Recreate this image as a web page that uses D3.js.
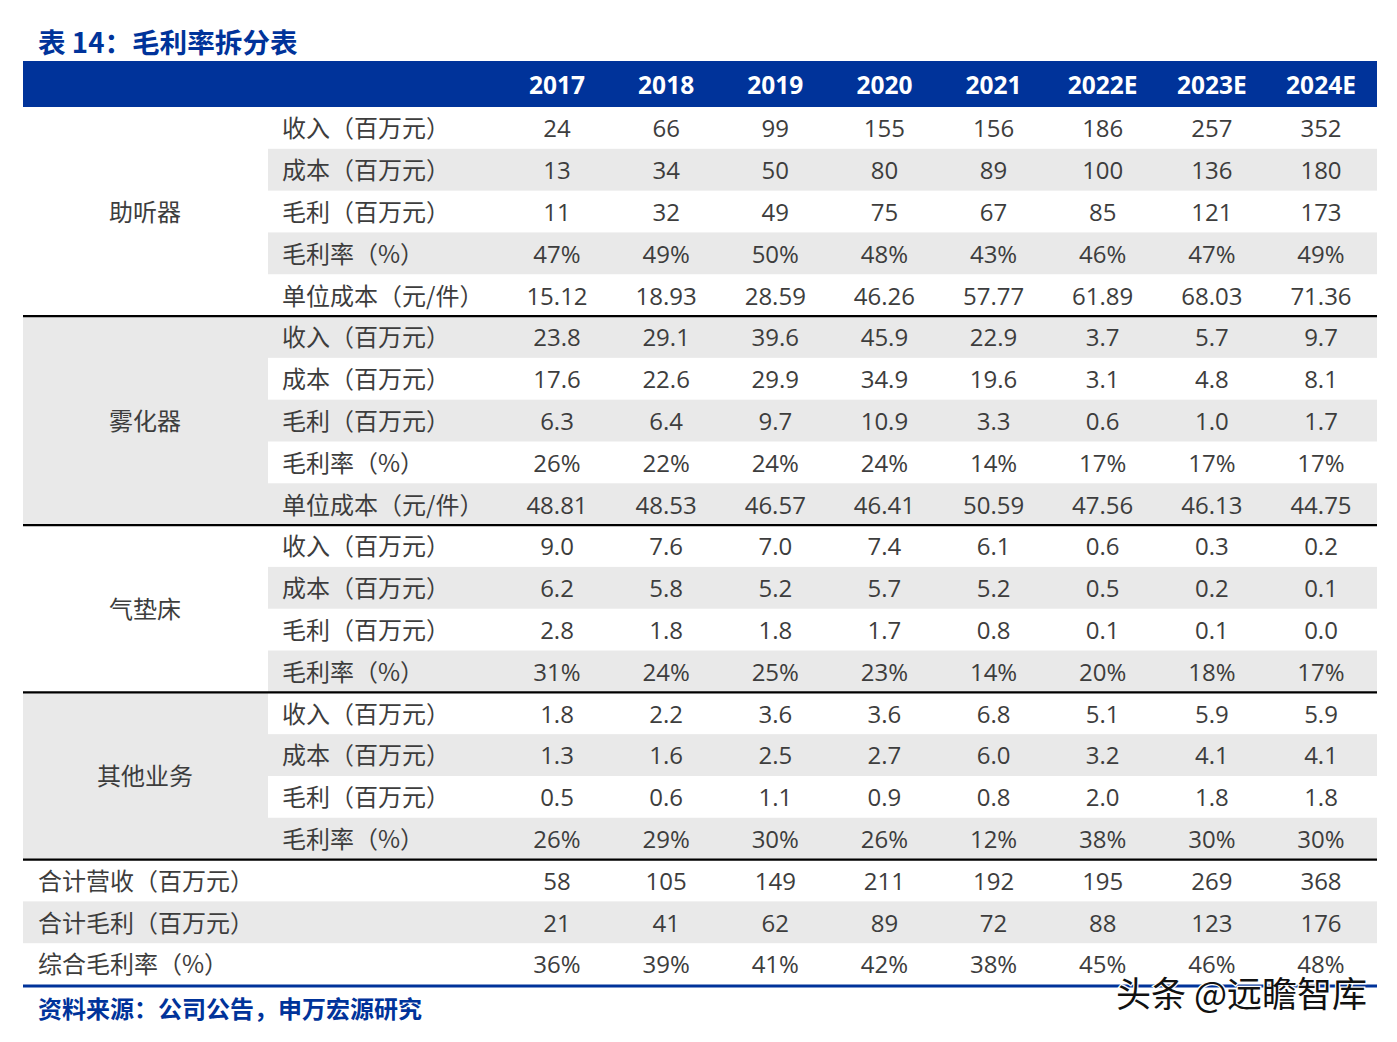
<!DOCTYPE html>
<html><head><meta charset="utf-8">
<script src="https://cdn.jsdelivr.net/npm/d3@7"></script>
<style>body{margin:0;background:#fff;}</style>
</head><body>
<svg id="c" width="1397" height="1042"></svg>
<script>
const title = "表 14：毛利率拆分表";
const source = "资料来源：公司公告，申万宏源研究";
const watermark = "头条 @远瞻智库";
const years = ["2017","2018","2019","2020","2021","2022E","2023E","2024E"];
const groups = [
  {name:"助听器", rows:5},
  {name:"雾化器", rows:5},
  {name:"气垫床", rows:4},
  {name:"其他业务", rows:4}
];
const rowLabels = [
  "收入（百万元）","成本（百万元）","毛利（百万元）","毛利率（%）","单位成本（元/件）",
  "收入（百万元）","成本（百万元）","毛利（百万元）","毛利率（%）","单位成本（元/件）",
  "收入（百万元）","成本（百万元）","毛利（百万元）","毛利率（%）",
  "收入（百万元）","成本（百万元）","毛利（百万元）","毛利率（%）",
  "合计营收（百万元）","合计毛利（百万元）","综合毛利率（%）"
];
const values = [
  ["24","66","99","155","156","186","257","352"],
  ["13","34","50","80","89","100","136","180"],
  ["11","32","49","75","67","85","121","173"],
  ["47%","49%","50%","48%","43%","46%","47%","49%"],
  ["15.12","18.93","28.59","46.26","57.77","61.89","68.03","71.36"],
  ["23.8","29.1","39.6","45.9","22.9","3.7","5.7","9.7"],
  ["17.6","22.6","29.9","34.9","19.6","3.1","4.8","8.1"],
  ["6.3","6.4","9.7","10.9","3.3","0.6","1.0","1.7"],
  ["26%","22%","24%","24%","14%","17%","17%","17%"],
  ["48.81","48.53","46.57","46.41","50.59","47.56","46.13","44.75"],
  ["9.0","7.6","7.0","7.4","6.1","0.6","0.3","0.2"],
  ["6.2","5.8","5.2","5.7","5.2","0.5","0.2","0.1"],
  ["2.8","1.8","1.8","1.7","0.8","0.1","0.1","0.0"],
  ["31%","24%","25%","23%","14%","20%","18%","17%"],
  ["1.8","2.2","3.6","3.6","6.8","5.1","5.9","5.9"],
  ["1.3","1.6","2.5","2.7","6.0","3.2","4.1","4.1"],
  ["0.5","0.6","1.1","0.9","0.8","2.0","1.8","1.8"],
  ["26%","29%","30%","26%","12%","38%","30%","30%"],
  ["58","105","149","211","192","195","269","368"],
  ["21","41","62","89","72","88","123","176"],
  ["36%","39%","41%","42%","38%","45%","46%","48%"]
];

const svg = d3.select("#c");
const BLUE = "#00339a", GRAY = "#e9e9e9", TXT = "#3d3d3d";
const L = 23, R = 1377, labelX = 268;
const FN = "'Open Sans','Noto Sans CJK SC',sans-serif";
const FC = "'Noto Sans CJK SC',sans-serif";

const x = d3.scalePoint().domain(years).range([557, 1321]);
const y = d3.scaleBand().domain(d3.range(rowLabels.length)).range([107, 985]);
const bh = y.bandwidth();

// title
svg.append("text").attr("x",38).attr("y",53).text(title)
  .attr("font-family",FC).attr("font-weight","bold").attr("font-size",27.6).attr("fill",BLUE);

// header band
svg.append("rect").attr("x",L).attr("y",61).attr("width",R-L).attr("height",46).attr("fill",BLUE);
svg.selectAll("text.yr").data(years).join("text").attr("class","yr")
  .attr("x",d=>x(d)).attr("y",85).attr("dy","0.35em").attr("text-anchor","middle")
  .attr("font-family",FN).attr("font-weight","bold").attr("font-size",24.5).attr("fill","#fff").text(d=>d);

// row stripes
const nGroupRows = d3.sum(groups, g=>g.rows);
svg.selectAll("rect.stripe").data(d3.range(rowLabels.length).filter(i=>i%2===1)).join("rect")
  .attr("class","stripe").attr("x",i=>i<nGroupRows?labelX:L).attr("y",i=>y(i))
  .attr("width",i=>R-(i<nGroupRows?labelX:L)).attr("height",bh).attr("fill",GRAY);

// group label cells
let start = 0;
const gInfo = groups.map((g,gi)=>{const o={...g,start,gi}; start+=g.rows; return o;});
svg.selectAll("rect.gcell").data(gInfo.filter(g=>g.gi%2===1)).join("rect").attr("class","gcell")
  .attr("x",L).attr("y",g=>y(g.start)).attr("width",labelX-L).attr("height",g=>g.rows*bh).attr("fill",GRAY);
svg.selectAll("text.gname").data(gInfo).join("text").attr("class","gname")
  .attr("x",145).attr("y",g=>y(g.start)+g.rows*bh/2+1).attr("dy","0.35em").attr("text-anchor","middle")
  .attr("font-family",FC).attr("font-size",24).attr("fill",TXT).text(g=>g.name);

// row labels
svg.selectAll("text.rl").data(rowLabels).join("text").attr("class","rl")
  .attr("x",(d,i)=>i<nGroupRows?282:38).attr("y",(d,i)=>y(i)+bh/2+1).attr("dy","0.35em")
  .attr("font-family",FC).attr("font-size",24).attr("fill",TXT).text(d=>d);

// values
const cells = values.flatMap((r,i)=>r.map((v,j)=>({i,yr:years[j],v})));
svg.selectAll("text.v").data(cells).join("text").attr("class","v")
  .attr("x",d=>x(d.yr)).attr("y",d=>y(d.i)+bh/2+1).attr("dy","0.35em").attr("text-anchor","middle")
  .attr("font-family",FN).attr("font-size",24).attr("fill",TXT).text(d=>d.v);

// group separator lines
const seps = gInfo.slice(1).map(g=>g.start).concat([nGroupRows]);
svg.selectAll("line.sep").data(seps).join("line").attr("class","sep")
  .attr("x1",L).attr("x2",R).attr("y1",i=>y(i)).attr("y2",i=>y(i)).attr("stroke","#000").attr("stroke-width",2.2);

// bottom blue line
svg.append("line").attr("x1",L).attr("x2",R).attr("y1",986).attr("y2",986).attr("stroke",BLUE).attr("stroke-width",3);

// source
svg.append("text").attr("x",38).attr("y",1018).text(source)
  .attr("font-family",FC).attr("font-weight","bold").attr("font-size",24).attr("fill",BLUE);

// watermark
svg.append("text").attr("x",1367).attr("y",1007).attr("text-anchor","end").text(watermark)
  .attr("font-family",FC).attr("font-size",35).attr("fill","#111")
  .attr("stroke","#fff").attr("stroke-width",2.5).attr("paint-order","stroke");
</script>
</body></html>
